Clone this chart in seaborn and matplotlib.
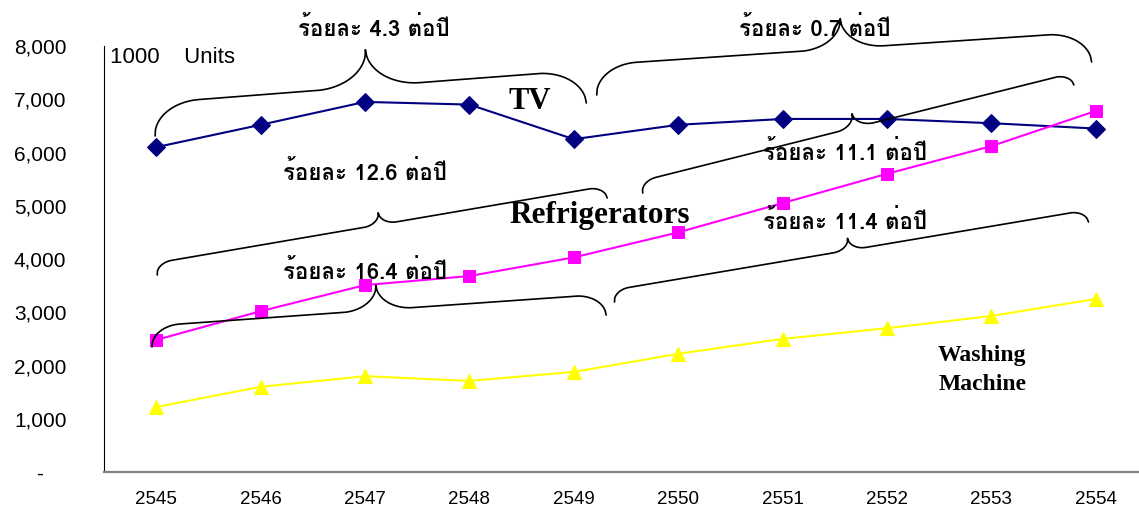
import numpy as np
import pandas as pd
import matplotlib
matplotlib.use('Agg')
import matplotlib.pyplot as plt
from matplotlib import font_manager as fm
from matplotlib.ticker import FuncFormatter
import seaborn as sns
from fontTools.ttLib import TTFont

# data (1000 units)
years = [2545, 2546, 2547, 2548, 2549, 2550, 2551, 2552, 2553, 2554]
tv = [6100, 6520, 6950, 6900, 6250, 6520, 6630, 6630, 6550, 6450]
fridge = [2480, 3020, 3510, 3680, 4030, 4500, 5050, 5600, 6120, 6780]
washing = [1220, 1600, 1800, 1710, 1880, 2220, 2500, 2700, 2930, 3250]

growth_labels = ['ร้อยละ 4.3 ต่อปี', 'ร้อยละ 0.7 ต่อปี', 'ร้อยละ 11.1 ต่อปี',
                 'ร้อยละ 12.6 ต่อปี', 'ร้อยละ 16.4 ต่อปี', 'ร้อยละ 11.4 ต่อปี']
label_pos = [(2547.08, 8338), (2551.31, 8338), (2551.60, 6009),
             (2547.00, 5634), (2547.00, 3775), (2551.60, 4714)]
# braces: start, end (year, value), hook and tip height in px
brace_start = [(2544.99, 6310), (2549.22, 7080), (2549.66, 5239),
               (2545.01, 3700), (2544.96, 2347), (2549.39, 3192)]
brace_end = [(2549.12, 6930), (2553.96, 7700), (2553.79, 7268),
             (2549.32, 5146), (2549.31, 2948), (2553.93, 4695)]
brace_hook = [33, 30, 12, 12, 21, 12]
brace_tip = [37, 30, 14, 12, 25, 12]


# find a font that has thai glyphs
thai_family = None
for f in fm.fontManager.ttflist:
    try:
        cmap = TTFont(f.fname, fontNumber=0, lazy=True).getBestCmap()
    except Exception:
        continue
    if cmap and 0x0E23 in cmap:
        thai_family = f.name
        break
thai_fonts = [thai_family, 'DejaVu Sans'] if thai_family else ['DejaVu Sans']

sns.set_style('white')
plt.rcParams['font.family'] = ['Liberation Sans', 'DejaVu Sans']
plt.rcParams['text.color'] = 'black'
plt.rcParams['xtick.color'] = 'black'
plt.rcParams['ytick.color'] = 'black'

fig = plt.figure(figsize=(11.39, 5.11), dpi=100)
ax = fig.add_axes([104 / 1139, 39 / 511, 1044 / 1139, 426 / 511])

sns.lineplot(x=years, y=tv, color='#000080', marker='D', markersize=9,
             markeredgecolor='#000080', linewidth=1.5, ax=ax)
sns.lineplot(x=years, y=fridge, color='#FF00FF', marker='s', markersize=9,
             markeredgecolor='#FF00FF', linewidth=1.5, ax=ax)
sns.lineplot(x=years, y=washing, color='#FFFF00', marker='^', markersize=10,
             markeredgecolor='#FFFF00', linewidth=1.5, ax=ax)

ax.set_xlim(2544.5, 2554.5)
ax.set_ylim(0, 8000)
ax.set_xticks(years)
ax.set_xticklabels([str(y) for y in years])
ax.set_xticks(np.arange(2544.5, 2555, 1), minor=True)
ax.set_yticks(range(0, 8001, 1000))
ax.yaxis.set_major_formatter(FuncFormatter(lambda v, p: '-    ' if v == 0 else f'{v:,.0f}'))
ax.tick_params(axis='x', which='major', length=0, pad=14, labelsize=13.5, labelcolor='black')
ax.tick_params(axis='x', which='minor', length=7, width=1, color='black', direction='out')
ax.tick_params(axis='y', length=5, width=1, color='#808080', direction='out', pad=22,
               labelsize=15, labelcolor='black')
ax.set_xlabel('')
ax.set_ylabel('')
for s in ['top', 'right']:
    ax.spines[s].set_visible(False)
ax.spines['left'].set_color('black')
ax.spines['left'].set_linewidth(0.8)
ax.spines['bottom'].set_color('#808080')
ax.spines['bottom'].set_linewidth(1.6)


def brace(ax, p0, p1, hook, tip):
    a = ax.transData.transform(p0)
    b = ax.transData.transform(p1)
    length = np.hypot(*(b - a))
    d = (b - a) / length
    n = np.array([-d[1], d[0]])
    half = length / 2
    u = np.linspace(0, half, 300)
    rh = min(1.4 * hook, half / 2)
    rt = min(1.4 * tip, half / 2)
    v = hook * np.sqrt(1 - (1 - np.clip(u / rh, 0, 1)) ** 2)
    w = np.clip((u - (half - rt)) / rt, 0, 1)
    v = v + tip * (1 - np.sqrt(1 - w ** 2))
    u = np.concatenate([u, length - u[::-1]])
    v = np.concatenate([v, v[::-1]])
    pts = a + np.outer(u, d) + np.outer(v, n)
    pts = ax.transData.inverted().transform(pts)
    ax.plot(pts[:, 0], pts[:, 1], color='black', lw=1.2, clip_on=False)


for i in range(len(brace_start)):
    brace(ax, brace_start[i], brace_end[i], brace_hook[i], brace_tip[i])

for txt, (x, y) in zip(growth_labels, label_pos):
    ax.text(x, y, txt, ha='center', va='center', fontsize=16, fontweight='bold',
            family=thai_fonts)

ax.text(2548.58, 6967, 'TV', ha='center', va='center', fontsize=22,
        fontweight='bold', family='Liberation Serif')
ax.text(2549.25, 4826, 'Refrigerators', ha='center', va='center', fontsize=22.5,
        fontweight='bold', family='Liberation Serif')
ax.text(2552.49, 1915, 'Washing\nMachine', ha='left', va='center', fontsize=17,
        fontweight='bold', family='Liberation Serif', linespacing=1.45)
ax.text(2544.56, 7793, '1000    Units', ha='left', va='center', fontsize=16)

fig.savefig('out.png', dpi=100)
